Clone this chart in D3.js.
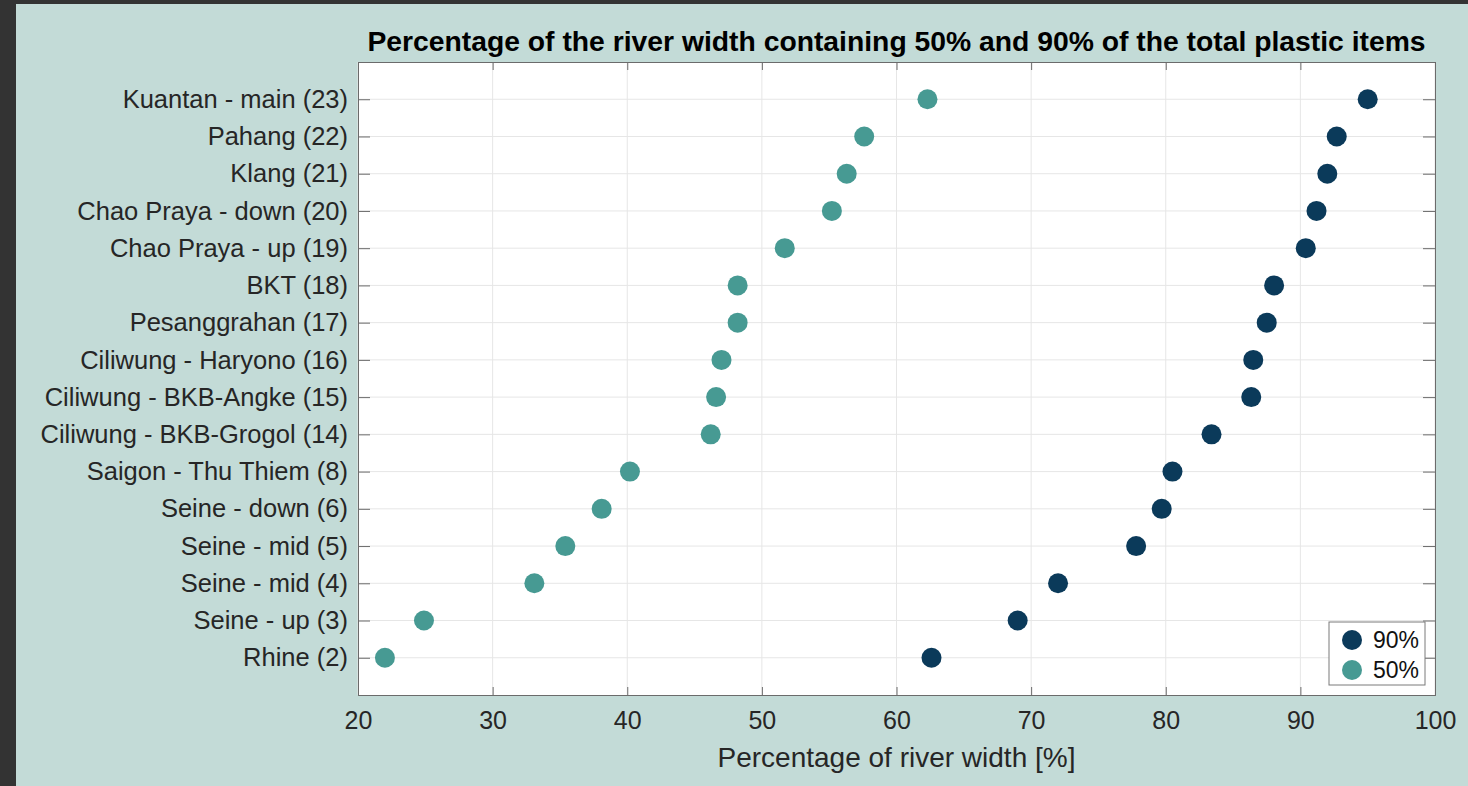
<!DOCTYPE html>
<html>
<head>
<meta charset="utf-8">
<script src="https://cdn.jsdelivr.net/npm/d3@7"></script>
<style>
  html, body { margin: 0; padding: 0; background: #333333; }
  svg { display: block; font-family: "Liberation Sans", Arial, sans-serif; }
  .axis text { fill: #262626; font-size: 25px; }
  .axis.y text { font-size: 25.5px; }
</style>
</head>
<body>
<div class="mainviz"></div>
<script>
var rivers = ["Kuantan - main (23)", "Pahang (22)", "Klang (21)", "Chao Praya - down (20)",
	"Chao Praya - up (19)", "BKT (18)", "Pesanggrahan (17)", "Ciliwung - Haryono (16)",
	"Ciliwung - BKB-Angke (15)", "Ciliwung - BKB-Grogol (14)", "Saigon - Thu Thiem (8)",
	"Seine - down (6)", "Seine - mid (5)", "Seine - mid (4)", "Seine - up (3)", "Rhine (2)"];

var p90 = [95.0, 92.7, 92.0, 91.2, 90.4, 88.05, 87.5, 86.5, 86.35, 83.4, 80.5, 79.7, 77.8, 72.0, 69.0, 62.6];
var p50 = [62.3, 57.6, 56.3, 55.2, 51.7, 48.2, 48.2, 47.0, 46.6, 46.2, 40.2, 38.1, 35.4, 33.1, 24.9, 22.0];

var xTicks = [20, 30, 40, 50, 60, 70, 80, 90, 100];

var width = 1468, height = 786;
var margin = { top: 62, right: 33, bottom: 91, left: 358 };
var plotW = width - margin.left - margin.right,
	plotH = height - margin.top - margin.bottom;

var svg = d3.select(".mainviz").append("svg")
	.attr("width", width)
	.attr("height", height);

// light panel with dark strips on the left and top
svg.append("rect")
	.attr("x", 16).attr("y", 4)
	.attr("width", width - 16).attr("height", height - 4)
	.attr("fill", "#c3dbd7");

var chartGroup = svg.append("g")
	.attr("transform", "translate(" + margin.left + "," + margin.top + ")");

var x = d3.scaleLinear()
	.domain([20, 100])
	.range([0, plotW]);

var y = d3.scalePoint()
	.domain(rivers)
	.range([0, plotH])
	.padding(1);

chartGroup.append("rect")
	.attr("width", plotW)
	.attr("height", plotH)
	.attr("fill", "#ffffff");

// grid
chartGroup.selectAll("line.vgrid")
	.data(xTicks)
	.enter().append("line")
	.attr("class", "vgrid")
	.attr("x1", function(d){ return x(d); })
	.attr("x2", function(d){ return x(d); })
	.attr("y1", 0).attr("y2", plotH)
	.attr("stroke", "#e6e6e6");

chartGroup.selectAll("line.hgrid")
	.data(rivers)
	.enter().append("line")
	.attr("class", "hgrid")
	.attr("x1", 0).attr("x2", plotW)
	.attr("y1", function(d){ return y(d); })
	.attr("y2", function(d){ return y(d); })
	.attr("stroke", "#e6e6e6");

// axes, ticks pointing inward like matlab
var xAxis = d3.axisBottom(x).tickValues(xTicks).tickSize(-8).tickPadding(16);
var xTop = d3.axisTop(x).tickValues(xTicks).tickSize(-8).tickFormat("");
var yAxis = d3.axisLeft(y).tickSize(-12).tickPadding(10);
var yRight = d3.axisRight(y).tickSize(-12).tickFormat("");

chartGroup.append("g")
	.attr("class", "axis x")
	.attr("transform", "translate(0," + plotH + ")")
	.call(xAxis);

chartGroup.append("g")
	.attr("class", "axis")
	.call(xTop);

chartGroup.append("g")
	.attr("class", "axis y")
	.call(yAxis);

chartGroup.append("g")
	.attr("class", "axis")
	.attr("transform", "translate(" + plotW + ",0)")
	.call(yRight);

chartGroup.selectAll(".axis path").attr("stroke", "#6b6b6b");
chartGroup.selectAll(".axis line").attr("stroke", "#6b6b6b");

// points
chartGroup.selectAll("circle.p50")
	.data(rivers)
	.enter().append("circle")
	.attr("class", "p50")
	.attr("cx", function(d, i){ return x(p50[i]); })
	.attr("cy", function(d){ return y(d); })
	.attr("r", 10)
	.attr("fill", "#479a93");

chartGroup.selectAll("circle.p90")
	.data(rivers)
	.enter().append("circle")
	.attr("class", "p90")
	.attr("cx", function(d, i){ return x(p90[i]); })
	.attr("cy", function(d){ return y(d); })
	.attr("r", 10)
	.attr("fill", "#0b3a5a");

// legend
var legend = chartGroup.append("g")
	.attr("transform", "translate(" + (plotW - 106) + "," + (plotH - 73) + ")");
legend.append("rect")
	.attr("width", 96).attr("height", 63)
	.attr("fill", "#ffffff")
	.attr("stroke", "#7a7a7a");
var legItems = [{ label: "90%", color: "#0b3a5a" }, { label: "50%", color: "#479a93" }];
legend.selectAll("circle")
	.data(legItems)
	.enter().append("circle")
	.attr("cx", 23)
	.attr("cy", function(d, i){ return 18 + i * 30; })
	.attr("r", 10)
	.attr("fill", function(d){ return d.color; });
legend.selectAll("text")
	.data(legItems)
	.enter().append("text")
	.attr("x", 44)
	.attr("y", function(d, i){ return 26 + i * 30; })
	.attr("font-size", "23px")
	.attr("fill", "#111")
	.text(function(d){ return d.label; });

// title and label
svg.append("text")
	.attr("x", margin.left + plotW / 2)
	.attr("y", 51)
	.attr("text-anchor", "middle")
	.attr("font-size", "28.3px")
	.attr("font-weight", "bold")
	.attr("fill", "#000")
	.text("Percentage of the river width containing 50% and 90% of the total plastic items");

svg.append("text")
	.attr("x", margin.left + plotW / 2)
	.attr("y", 767)
	.attr("text-anchor", "middle")
	.attr("font-size", "28px")
	.attr("fill", "#262626")
	.text("Percentage of river width [%]");
</script>
</body>
</html>
